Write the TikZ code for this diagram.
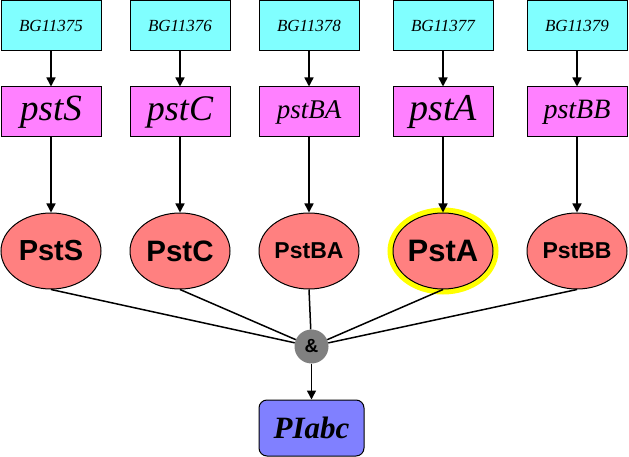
\documentclass[tikz,border=0pt]{standalone}
\usepackage{fontspec}
\setmainfont{Liberation Serif}
\setsansfont{Liberation Sans}
\usetikzlibrary{arrows.meta,shapes.geometric}
\definecolor{gcyan}{HTML}{80FFFF}
\definecolor{gpink}{HTML}{FF80FF}
\definecolor{gsalmon}{HTML}{FF8080}
\definecolor{ggrey}{HTML}{808080}
\definecolor{gblue}{HTML}{8080FF}
\definecolor{gyellow}{HTML}{FFFF00}
\newcommand{\fs}[1]{\fontsize{#1}{#1}\selectfont}
\tikzset{
  genebox/.style={draw=black, line width=1pt, fill=gcyan, minimum width=100pt, minimum height=50pt, inner sep=0pt, font=\itshape\fs{17}},
  protbox/.style={draw=black, line width=1pt, fill=gpink, minimum width=100pt, minimum height=50pt, inner sep=0pt},
  protell/.style={ellipse, draw=black, line width=1pt, fill=gsalmon, minimum width=100pt, minimum height=76pt, inner sep=0pt},
  andnode/.style={circle, fill=ggrey, minimum size=34pt, inner sep=0pt, font=\sffamily\bfseries\fs{19}},
  outbox/.style={draw=black, line width=1pt, fill=gblue, rounded corners=8pt, minimum width=105pt, minimum height=56pt, inner sep=0pt, font=\bfseries\itshape\fs{31}},
  arr/.style={line width=1.5pt, -{Triangle[length=9pt,width=9pt]}},
  ln/.style={line width=1.5pt},
  hilite/.style={preaction={draw=gyellow, line width=11pt}}
}
\begin{document}
\begin{tikzpicture}[x=1pt,y=-1pt]
\useasboundingbox (0,0) rectangle (629,457);
% genes
\node[genebox] (g1) at (51,26) {BG11375};
\node[genebox] (g2) at (180,26) {BG11376};
\node[genebox] (g3) at (309,26) {BG11378};
\node[genebox] (g4) at (443,26) {BG11377};
\node[genebox] (g5) at (577,26) {BG11379};
% proteins (pink)
\node[protbox, font=\itshape\fs{37}] (p1) at (51,112) {pstS};
\node[protbox, font=\itshape\fs{36}] (p2) at (180,112) {pstC};
\node[protbox, font=\itshape\fs{27}] (p3) at (309,112) {pstBA};
\node[protbox, font=\itshape\fs{38}] (p4) at (443,112) {pstA};
\node[protbox, font=\itshape\fs{28}] (p5) at (577,112) {pstBB};
% ellipses
\node[protell, font=\sffamily\bfseries\fs{29}] (e1) at (51,251) {PstS};
\node[protell, font=\sffamily\bfseries\fs{29.5}] (e2) at (180,251) {PstC};
\node[protell, font=\sffamily\bfseries\fs{23}] (e3) at (309,251) {PstBA};
\node[protell, hilite, font=\sffamily\bfseries\fs{31}] (e4) at (443,251) {PstA};
\node[protell, font=\sffamily\bfseries\fs{23}] (e5) at (577,251) {PstBB};
% and
\node[andnode] (and) at (311.5,346.5) {\&};
\node[outbox] (out) at (311.5,428) {PIabc};
% connectors
\foreach \i in {1,...,5} {
  \draw[arr] (g\i) -- (p\i);
  \draw[arr] (p\i) -- (e\i);
  \draw[ln] (e\i.south) -- (and);
}
\draw[arr] (and) -- (out);
\end{tikzpicture}
\end{document}
